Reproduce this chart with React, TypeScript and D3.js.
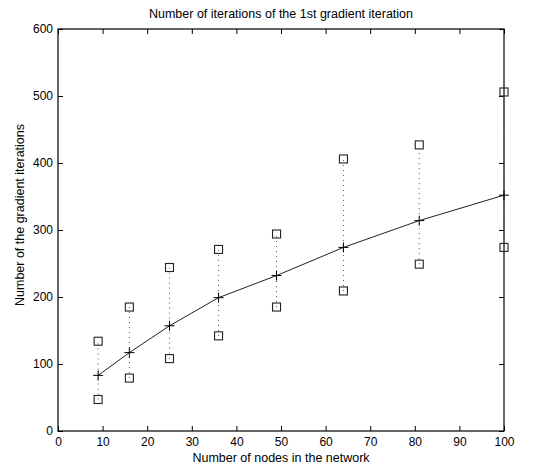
import * as d3 from 'd3';
import { useEffect, useRef } from 'react';

const NODES = [9, 16, 25, 36, 49, 64, 81, 100];
const MEAN_ITERS = [83, 117, 157, 199, 232, 274, 314, 352];
const MAX_ITERS = [134, 185, 244, 271, 294, 406, 427, 506];
const MIN_ITERS = [47, 79, 108, 142, 185, 209, 249, 274];
const X_TICKS = [0, 10, 20, 30, 40, 50, 60, 70, 80, 90, 100];
const Y_TICKS = [0, 100, 200, 300, 400, 500, 600];

const WIDTH = 542;
const HEIGHT = 468;
const margin = { top: 29, right: 38, bottom: 37, left: 58 };
const FONT = '"Liberation Sans", Arial, Helvetica, sans-serif';

export default function App() {
    const svgRef = useRef<SVGSVGElement>(null);

    useEffect(() => {
        const svg = d3.select(svgRef.current!);
        svg.selectAll('*').remove();

        const w = WIDTH - margin.left - margin.right;
        const h = HEIGHT - margin.top - margin.bottom;

        const x = d3.scaleLinear().domain([0, 100]).range([0, w]);
        const y = d3.scaleLinear().domain([0, 600]).range([h, 0]);

        const g = svg.append('g').attr('transform', `translate(${margin.left},${margin.top})`);

        // box
        g.append('rect')
            .attr('width', w)
            .attr('height', h)
            .attr('fill', 'none')
            .attr('stroke', '#000')
            .attr('stroke-width', 1.2);

        const styleAxis = (sel: d3.Selection<SVGGElement, unknown, null, undefined>) => {
            sel.select('.domain').remove();
            sel.selectAll('.tick line').attr('stroke', '#000');
            sel.selectAll('.tick text')
                .attr('fill', '#000')
                .style('font-family', FONT)
                .style('font-size', '12px');
        };

        g.append('g')
            .attr('transform', `translate(0,${h})`)
            .call(d3.axisBottom(x).tickValues(X_TICKS).tickSize(-5).tickPadding(6))
            .call(styleAxis);
        g.append('g')
            .call(d3.axisTop(x).tickValues(X_TICKS).tickSize(-5).tickFormat(() => ''))
            .call(styleAxis);
        g.append('g')
            .call(d3.axisLeft(y).tickValues(Y_TICKS).tickSize(-5).tickPadding(5))
            .call(styleAxis);
        g.append('g')
            .attr('transform', `translate(${w},0)`)
            .call(d3.axisRight(y).tickValues(Y_TICKS).tickSize(-5).tickFormat(() => ''))
            .call(styleAxis);

        // dotted min-max ranges
        g.append('g')
            .selectAll('line')
            .data(NODES)
            .join('line')
            .attr('x1', (d) => x(d))
            .attr('x2', (d) => x(d))
            .attr('y1', (_, i) => y(MIN_ITERS[i]))
            .attr('y2', (_, i) => y(MAX_ITERS[i]))
            .attr('stroke', '#555')
            .attr('stroke-width', 1)
            .attr('stroke-dasharray', '1,4');

        // mean line
        const line = d3
            .line<number>()
            .x((d) => x(d))
            .y((_, i) => y(MEAN_ITERS[i]));
        g.append('path')
            .datum(NODES)
            .attr('d', line)
            .attr('fill', 'none')
            .attr('stroke', '#222')
            .attr('stroke-width', 1);

        // plus markers
        g.append('g')
            .selectAll('path')
            .data(NODES)
            .join('path')
            .attr('d', (d, i) => {
                const cx = x(d);
                const cy = y(MEAN_ITERS[i]);
                return `M${cx - 5},${cy}H${cx + 5}M${cx},${cy - 5}V${cy + 5}`;
            })
            .attr('stroke', '#000')
            .attr('stroke-width', 1);

        // square markers
        const squares = NODES.flatMap((d, i) => [
            [d, MAX_ITERS[i]],
            [d, MIN_ITERS[i]],
        ]);
        g.append('g')
            .selectAll('rect')
            .data(squares)
            .join('rect')
            .attr('x', (d) => x(d[0]) - 4)
            .attr('y', (d) => y(d[1]) - 4)
            .attr('width', 8)
            .attr('height', 8)
            .attr('fill', 'none')
            .attr('stroke', '#222')
            .attr('stroke-width', 1.1);

        // title and labels
        svg.append('text')
            .attr('x', margin.left + w / 2)
            .attr('y', 18)
            .attr('text-anchor', 'middle')
            .style('font-family', FONT)
            .style('font-size', '12.5px')
            .text('Number of iterations of the 1st gradient iteration');

        svg.append('text')
            .attr('x', margin.left + w / 2)
            .attr('y', 462)
            .attr('text-anchor', 'middle')
            .style('font-family', FONT)
            .style('font-size', '12.5px')
            .text('Number of nodes in the network');

        svg.append('text')
            .attr('transform', `translate(24,215) rotate(-90)`)
            .attr('text-anchor', 'middle')
            .style('font-family', FONT)
            .style('font-size', '12.5px')
            .text('Number of the gradient iterations');
    }, []);

    return (
        <svg
            ref={svgRef}
            width={WIDTH}
            height={HEIGHT}
            style={{ position: 'absolute', left: 0, top: 0, background: '#fff' }}
        />
    );
}
